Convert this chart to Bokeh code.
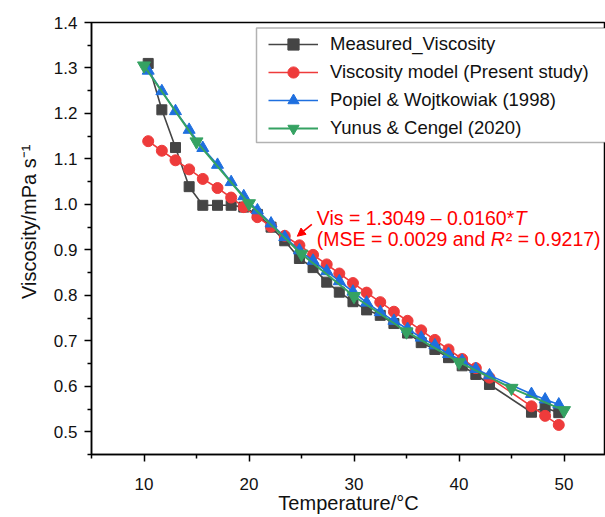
from bokeh.plotting import figure
from bokeh.models import (Range1d, FixedTicker, PrintfTickFormatter, Legend,
                          LegendItem, Label, Arrow, NormalHead, BoxAnnotation)
from bokeh.embed import file_html
from bokeh.resources import INLINE

# ---- data ----
temp = [10.4, 11.7, 13.0, 14.3, 15.6, 17.0, 18.3, 19.5, 20.8, 22.1, 23.4, 24.8, 26.1, 27.4,
        28.6, 29.9, 31.2, 32.5, 33.8, 35.1, 36.4, 37.7, 39.0, 40.3, 41.6, 42.9, 46.9, 48.2, 49.5]
measured = [1.310, 1.208, 1.125, 1.039, 0.998, 0.998, 0.998, 0.994, 0.978, 0.950, 0.920, 0.881,
            0.861, 0.829, 0.807, 0.786, 0.768, 0.756, 0.738, 0.717, 0.696, 0.681, 0.663, 0.645,
            0.626, 0.604, 0.543, 0.553, 0.542]
model = [1.139, 1.118, 1.097, 1.077, 1.056, 1.036, 1.015, 0.994, 0.972, 0.951, 0.931, 0.910,
         0.889, 0.868, 0.848, 0.827, 0.806, 0.785, 0.764, 0.744, 0.723, 0.702, 0.681, 0.660,
         0.640, 0.619, 0.556, 0.535, 0.515]
popiel = [1.294, 1.249, 1.205, 1.164, 1.124, 1.087, 1.049, 1.018, 0.987, 0.958, 0.928, 0.899,
          0.876, 0.853, 0.831, 0.808, 0.784, 0.763, 0.744, 0.726, 0.707, 0.690, 0.671, 0.656,
          0.638, 0.624, 0.583, 0.571, 0.560]
temp_yc = [10, 15, 20, 25, 30, 35, 40, 45, 50]
yunus = [1.305, 1.138, 1.002, 0.891, 0.798, 0.720, 0.653, 0.596, 0.547]

x_major = [10, 20, 30, 40, 50]
x_minor = [5, 15, 25, 35, 45, 55]
y_major = [0.5, 0.6, 0.7, 0.8, 0.9, 1.0, 1.1, 1.2, 1.3, 1.4]
y_minor = [0.45, 0.55, 0.65, 0.75, 0.85, 0.95, 1.05, 1.15, 1.25, 1.35]
y_bottom, y_top = 0.45, 1.4

labels = ["Measured_Viscosity", "Viscosity model (Present study)",
          "Popiel & Wojtkowiak (1998)", "Yunus & Cengel (2020)"]
eq_line1 = "Vis = 1.3049 \u2013 0.0160*"
eq_line1_it = "T"
eq_line2 = "(MSE = 0.0029 and "
eq_line2_it = "R"
eq_line2_end = "\u00b2 = 0.9217)"
x_title = "Temperature/\u00b0C"
y_title = "\u00a0" * 6 + "Viscosity/mPa s\u207b\u00b9"

# annotation placement (data units)
eq_x, eq_y1, eq_y2 = 26.45, 0.971, 0.923
arrow_from = (25.98, 0.956)
arrow_to = (24.6, 0.930)

FONT = "Liberation Sans"
BLACK, RED, BLUE, GREEN = "#454545", "#EE3B3B", "#1E6FDF", "#35A262"

p = figure(width=605, height=517, output_backend="svg", toolbar_location=None,
           x_range=Range1d(5, 53.95), y_range=Range1d(y_bottom, y_top),
           min_border_left=91, min_border_right=0, min_border_top=22, min_border_bottom=63)
p.grid.visible = False
p.outline_line_color = "black"
p.outline_line_width = 1.5
p.background_fill_color = "white"

l1 = p.line(temp, measured, line_color=BLACK, line_width=1.6)
s1 = p.scatter(temp, measured, marker="square", size=10, fill_color=BLACK, line_color=BLACK)
l2 = p.line(temp, model, line_color=RED, line_width=1.6)
s2 = p.scatter(temp, model, marker="circle", size=11, fill_color=RED, line_color=RED)
l3 = p.line(temp, popiel, line_color=BLUE, line_width=1.6)
s3 = p.scatter(temp, popiel, marker="triangle", size=12, fill_color=BLUE, line_color=BLUE)
l4 = p.line(temp_yc, yunus, line_color=GREEN, line_width=2)
s4 = p.scatter(temp_yc, yunus, marker="inverted_triangle", size=13, fill_color=GREEN, line_color=GREEN)

# axes
xa, ya = p.below[0], p.left[0]
xa.ticker = FixedTicker(ticks=x_major, minor_ticks=x_minor)
ya.ticker = FixedTicker(ticks=y_major, minor_ticks=y_minor)
ya.formatter = PrintfTickFormatter(format="%.1f")
for ax in (xa, ya):
    ax.axis_line_color = "black"
    ax.axis_line_width = 1.5
    ax.major_tick_line_color = "black"
    ax.major_tick_line_width = 1.5
    ax.minor_tick_line_color = "black"
    ax.minor_tick_line_width = 1.5
    ax.major_tick_in = 0
    ax.major_tick_out = 7
    ax.minor_tick_in = 0
    ax.minor_tick_out = 4
    ax.major_label_text_font = FONT
    ax.major_label_text_font_size = "17px"
    ax.major_label_text_color = "#111111"
    ax.axis_label_text_font = FONT
    ax.axis_label_text_font_size = "20px"
    ax.axis_label_text_font_style = "normal"
    ax.axis_label_text_color = "#111111"
xa.axis_label = x_title
xa.major_label_standoff = 16
xa.axis_label_standoff = -1
ya.axis_label = y_title
ya.major_label_standoff = 7
ya.axis_label_standoff = 11

# legend frame + legend
box = BoxAnnotation(left=165, right=700, bottom=312, top=426.5,
                    left_units="screen", right_units="screen",
                    bottom_units="screen", top_units="screen",
                    fill_color="white", fill_alpha=1.0,
                    line_color="black", line_width=1.5)
p.add_layout(box)
legend = Legend(items=[LegendItem(label=labels[0], renderers=[l1, s1]),
                       LegendItem(label=labels[1], renderers=[l2, s2]),
                       LegendItem(label=labels[2], renderers=[l3, s3]),
                       LegendItem(label=labels[3], renderers=[l4, s4])],
                location=(177, 312), padding=0, spacing=0, margin=0,
                glyph_width=50, glyph_height=28, label_height=28, label_standoff=12,
                label_text_font=FONT, label_text_font_size="18.5px",
                label_text_color="#111111",
                border_line_alpha=0, background_fill_alpha=0)
p.add_layout(legend)

# equation annotation
fs = "19.5px"
p.add_layout(Label(x=eq_x, y=eq_y1, text=eq_line1, text_font=FONT, text_font_size=fs,
                   text_color="#FF0000", text_baseline="alphabetic"))
p.add_layout(Label(x=eq_x, y=eq_y1, x_offset=198, text=eq_line1_it, text_font=FONT,
                   text_font_size=fs, text_font_style="italic", text_color="#FF0000",
                   text_baseline="alphabetic"))
p.add_layout(Label(x=eq_x, y=eq_y2, text=eq_line2, text_font=FONT, text_font_size=fs,
                   text_color="#FF0000", text_baseline="alphabetic"))
p.add_layout(Label(x=eq_x, y=eq_y2, x_offset=174, text=eq_line2_it, text_font=FONT,
                   text_font_size=fs, text_font_style="italic", text_color="#FF0000",
                   text_baseline="alphabetic"))
p.add_layout(Label(x=eq_x, y=eq_y2, x_offset=189, text=eq_line2_end, text_font=FONT,
                   text_font_size=fs, text_color="#FF0000", text_baseline="alphabetic"))
p.add_layout(Arrow(end=NormalHead(size=8, fill_color="#FF0000", line_color="#FF0000"),
                   x_start=arrow_from[0], y_start=arrow_from[1],
                   x_end=arrow_to[0], y_end=arrow_to[1],
                   line_color="#FF0000", line_width=1.6))

open("out.html", "w").write(file_html(p, INLINE))
